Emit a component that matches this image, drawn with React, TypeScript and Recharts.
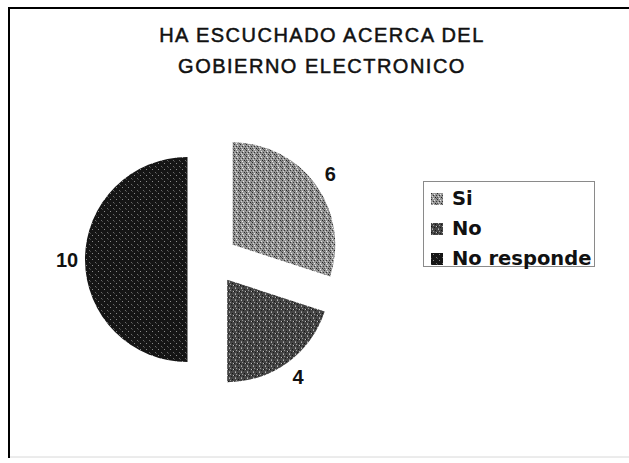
import React from 'react';
import { PieChart, Pie, Cell, Sector, Legend } from 'recharts';

// valores
const categories = ['Si', 'No', 'No responde'];
const counts = [6, 4, 10];
const textureIds = ['texSi', 'texNo', 'texNr'];
const titleLines = ['HA ESCUCHADO ACERCA DEL', 'GOBIERNO ELECTRONICO'];

const pieData = categories.map((name, i) => ({ name, value: counts[i] }));

const RAD = Math.PI / 180;
const EXPLODE = 25;
const CX = 212.5;
const CY = 259.5;
const R = 102.5;

// texturas grises tipo escaneo
const textures: Record<string, { base: string; dots: [number, number, string][] }> = {
  texSi: {
    base: '#959595',
    dots: [[0, 0, '#2a2a2a'], [3, 1, '#e6e6e6'], [5, 2, '#3a3a3a'], [1, 3, '#d4d4d4'], [4, 4, '#222'], [2, 5, '#eee'], [0, 4, '#4a4a4a'], [5, 5, '#5a5a5a'], [2, 2, '#333']],
  },
  texNo: {
    base: '#444',
    dots: [[1, 0, '#b4b4b4'], [4, 1, '#151515'], [2, 2, '#999'], [0, 3, '#111'], [5, 3, '#c0c0c0'], [3, 4, '#1c1c1c'], [1, 5, '#8c8c8c']],
  },
  texNr: {
    base: '#151515',
    dots: [[2, 1, '#8a8a8a'], [5, 4, '#6a6a6a'], [0, 5, '#444']],
  },
};

const Texture = ({ id }: { id: string }) => {
  const t = textures[id];
  return (
    <pattern id={id} width={6} height={6} patternUnits="userSpaceOnUse">
      <rect width={6} height={6} fill={t.base} />
      {t.dots.map(([x, y, c], i) => (
        <rect key={i} x={x} y={y} width={1} height={1} fill={c} />
      ))}
    </pattern>
  );
};

const explodedSector = (props: any) => {
  const dx = EXPLODE * Math.cos(-props.midAngle * RAD);
  const dy = EXPLODE * Math.sin(-props.midAngle * RAD);
  return <Sector {...props} cx={props.cx + dx} cy={props.cy + dy} />;
};

const renderLabel = (props: any) => {
  const { cx, cy, midAngle, outerRadius, value } = props;
  const r = outerRadius + EXPLODE + 18;
  const x = cx + r * Math.cos(-midAngle * RAD);
  const y = cy + r * Math.sin(-midAngle * RAD);
  return (
    <text x={x} y={y} textAnchor="middle" dominantBaseline="central"
      fontFamily="'Liberation Sans', Arial, sans-serif" fontWeight="bold" fontSize={20} fill="#111">
      {value}
    </text>
  );
};

const renderLegend = (props: any) => {
  const { payload } = props;
  return (
    <div style={{
      border: '1px solid #8a8a8a', width: 172, height: 86, paddingTop: 2, paddingLeft: 7,
      boxSizing: 'border-box', background: '#fff',
    }}>
      {(payload || []).map((item: any) => {
        const idx = categories.indexOf(item.value);
        return (
          <div key={item.value} style={{ display: 'flex', alignItems: 'center', height: 30 }}>
            <svg width={12} height={12} style={{ marginRight: 9 }}>
              <rect width={12} height={12} fill={`url(#${textureIds[idx]})`} />
            </svg>
            <span style={{ fontFamily: "'DejaVu Sans', sans-serif", fontWeight: 'bold', fontSize: 19.5, color: '#111', lineHeight: '30px' }}>
              {item.value}
            </span>
          </div>
        );
      })}
    </div>
  );
};

export default function App() {
  return (
    <div style={{ position: 'absolute', left: 0, top: 0, width: 629, height: 463, background: '#fff' }}>
      <PieChart width={629} height={463} margin={{ top: 0, right: 0, bottom: 0, left: 0 }}>
        <defs>
          {textureIds.map((id) => <Texture key={id} id={id} />)}
        </defs>
        <line x1={9} y1={8} x2={629} y2={8} stroke="#000" strokeWidth={2} />
        <line x1={9} y1={7} x2={9} y2={458} stroke="#000" strokeWidth={2} />
        <line x1={10} y1={457} x2={629} y2={457} stroke="#d8d8d8" strokeWidth={1} />
        {titleLines.map((t, i) => (
          <text key={t} x={322} y={42 + i * 31} textAnchor="middle" letterSpacing={1.5}
            fontFamily="'Liberation Sans', Arial, sans-serif" fontSize={20} fill="#111"
            stroke="#111" strokeWidth={0.5}>
            {t}
          </text>
        ))}
        <Pie
          data={pieData}
          dataKey="value"
          nameKey="name"
          cx={CX}
          cy={CY}
          outerRadius={R}
          startAngle={90}
          endAngle={-270}
          stroke="none"
          shape={explodedSector}
          label={renderLabel}
          labelLine={false}
          isAnimationActive={false}
        >
          {pieData.map((d, i) => (
            <Cell key={d.name} fill={`url(#${textureIds[i]})`} />
          ))}
        </Pie>
        <Legend
          content={renderLegend}
          layout="vertical"
          align="right"
          verticalAlign="middle"
          itemSorter={null}
          wrapperStyle={{ position: 'absolute', left: 423, top: 181, width: 172 }}
        />
      </PieChart>
    </div>
  );
}
